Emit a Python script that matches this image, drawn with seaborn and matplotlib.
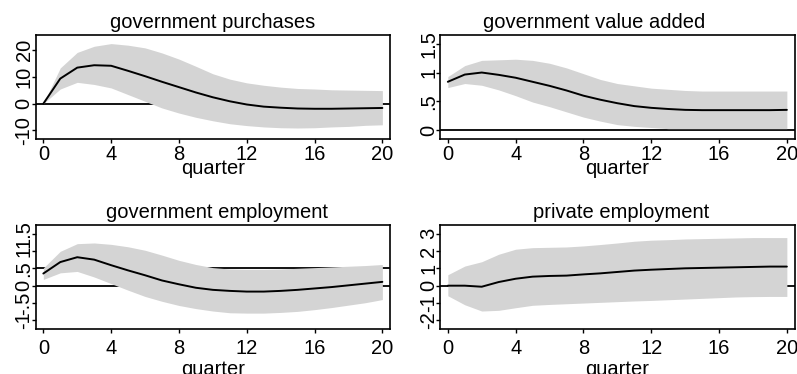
import numpy as np
import pandas as pd
import matplotlib
matplotlib.use("Agg")
import matplotlib.pyplot as plt
import seaborn as sns

# Impulse responses over 20 quarters: point estimate with confidence band
quarters = list(range(21))

titles = ["government purchases", "government value added",
          "government employment", "private employment"]

gp_irf = [0.0, 9.4, 13.5, 14.4, 14.2, 12.3, 10.3, 8.2, 6.2, 4.2, 2.4,
          0.9, -0.3, -1.1, -1.5, -1.8, -1.9, -1.9, -1.8, -1.7, -1.6]
gp_hi = [0.0, 13.4, 19.2, 21.5, 22.5, 21.9, 20.9, 19.0, 16.7, 14.0, 11.2,
         9.2, 7.8, 6.9, 6.2, 5.7, 5.5, 5.2, 5.1, 5.0, 4.9]
gp_lo = [0.0, 5.5, 8.0, 7.2, 5.9, 3.4, 0.9, -1.6, -3.5, -5.1, -6.4,
         -7.5, -8.2, -8.7, -9.0, -9.1, -9.0, -8.7, -8.5, -8.1, -7.9]

gva_irf = [0.84, 0.965, 1.0, 0.96, 0.91, 0.84, 0.77, 0.69, 0.60, 0.53, 0.47,
           0.42, 0.39, 0.37, 0.355, 0.35, 0.35, 0.35, 0.35, 0.35, 0.355]
gva_hi = [0.93, 1.12, 1.21, 1.22, 1.23, 1.21, 1.16, 1.08, 0.98, 0.88, 0.81,
          0.77, 0.73, 0.71, 0.69, 0.68, 0.68, 0.68, 0.68, 0.68, 0.68]
gva_lo = [0.74, 0.81, 0.78, 0.70, 0.60, 0.49, 0.41, 0.32, 0.23, 0.16, 0.10,
          0.07, 0.05, 0.03, 0.03, 0.03, 0.03, 0.03, 0.03, 0.03, 0.03]

ge_irf = [0.35, 0.68, 0.82, 0.75, 0.59, 0.44, 0.30, 0.15, 0.04, -0.06, -0.12,
          -0.15, -0.17, -0.17, -0.15, -0.12, -0.08, -0.04, 0.01, 0.06, 0.11]
ge_hi = [0.51, 0.99, 1.21, 1.23, 1.19, 1.12, 1.02, 0.88, 0.73, 0.61, 0.52,
         0.48, 0.47, 0.47, 0.48, 0.50, 0.52, 0.54, 0.56, 0.58, 0.61]
ge_lo = [0.18, 0.37, 0.41, 0.25, 0.06, -0.13, -0.31, -0.45, -0.57, -0.66, -0.73,
         -0.78, -0.79, -0.79, -0.77, -0.74, -0.69, -0.63, -0.56, -0.49, -0.40]

pe_irf = [0.0, 0.0, -0.06, 0.21, 0.40, 0.52, 0.56, 0.58, 0.65, 0.71, 0.79,
          0.87, 0.92, 0.96, 1.00, 1.02, 1.04, 1.06, 1.08, 1.10, 1.10]
pe_hi = [0.63, 1.13, 1.38, 1.81, 2.10, 2.19, 2.21, 2.23, 2.29, 2.37, 2.46,
         2.56, 2.62, 2.65, 2.69, 2.71, 2.73, 2.75, 2.77, 2.77, 2.77]
pe_lo = [-0.58, -1.10, -1.46, -1.42, -1.27, -1.13, -1.08, -1.04, -1.00, -0.96, -0.92,
         -0.88, -0.85, -0.81, -0.77, -0.73, -0.69, -0.65, -0.63, -0.62, -0.62]

x_ticks = [0, 4, 8, 12, 16, 20]
y_ticks = [[-10, 0, 10, 20], [0, 0.5, 1, 1.5],
           [-1, -0.5, 0, 0.5, 1, 1.5], [-2, -1, 0, 1, 2, 3]]
y_tick_labels = [["-10", "0", "10", "20"], ["0", ".5", "1", "1.5"],
                 ["-1", "-.5", "0", ".5", "1", "1.5"],
                 ["-2", "-1", "0", "1", "2", "3"]]
ref_lines = [[0], [0], [0, 0.5], [0]]

series = [(gp_irf, gp_lo, gp_hi), (gva_irf, gva_lo, gva_hi),
          (ge_irf, ge_lo, ge_hi), (pe_irf, pe_lo, pe_hi)]

sns.set_style("ticks")
plt.rcParams["font.family"] = ["Liberation Sans", "DejaVu Sans"]
plt.rcParams["text.color"] = "black"
plt.rcParams["axes.labelcolor"] = "black"
plt.rcParams["xtick.color"] = "black"
plt.rcParams["ytick.color"] = "black"

W, H = 797, 374
fig = plt.figure(figsize=(W / 100, H / 100), dpi=100)

# plot-region boxes in pixels: (left, top, right, bottom)
boxes = [(35.7, 35, 390.0, 139), (440.2, 35, 794.5, 139),
         (35.7, 225, 390.0, 329), (440.2, 225, 794.5, 329)]
title_x = [0.5, 0.434, 0.513, 0.512]
xtick_pad = [1.5, 1.5, 4.0, 4.0]
xlabel_y = [-0.337, -0.337, -0.445, -0.445]

band_color = "#d4d4d4"
fs = 14.5

for i, (irf, lo, hi) in enumerate(series):
    l, t, r, b = boxes[i]
    ax = fig.add_axes([l / W, (H - b) / H, (r - l) / W, (b - t) / H])
    df = pd.DataFrame({"quarter": quarters, "irf": irf, "lo": lo, "hi": hi})

    for yv in ref_lines[i]:
        ax.axhline(yv, color="black", lw=1.3, zorder=0.5)
    ax.fill_between(df["quarter"], df["lo"], df["hi"], color=band_color,
                    lw=0, zorder=1)
    sns.lineplot(data=df, x="quarter", y="irf", ax=ax, color="black",
                 lw=1.4, zorder=2)

    # axis range: tick/data span plus a fixed inner margin
    yt = y_ticks[i]
    lo_v = min(min(yt), min(lo))
    hi_v = max(max(yt), max(hi))
    m = 0.099 * (hi_v - lo_v)
    ax.set_ylim(lo_v - m, hi_v + m)
    ax.set_xlim(-0.45, 20.45)

    ax.set_xticks(x_ticks)
    ax.set_xticklabels([str(v) for v in x_ticks], fontsize=fs)
    ax.set_yticks(yt)
    ax.set_yticklabels(y_tick_labels[i], rotation=90, va="center", fontsize=fs)
    ax.tick_params(axis="x", length=3.0, width=1.0, pad=xtick_pad[i],
                   color="black", labelcolor="black")
    ax.tick_params(axis="y", length=3.0, width=1.0, pad=-1.5,
                   color="black", labelcolor="black")

    for sp in ax.spines.values():
        sp.set_visible(True)
        sp.set_linewidth(1.2)
        sp.set_color("black")

    ax.set_title(titles[i], fontsize=fs, x=title_x[i], pad=5.4, color="black")
    ax.set_xlabel("quarter", fontsize=fs, color="black")
    ax.xaxis.set_label_coords(0.5, xlabel_y[i])
    ax.xaxis.label.set_va("baseline")
    ax.set_ylabel("")

fig.savefig("out.png", dpi=100)
